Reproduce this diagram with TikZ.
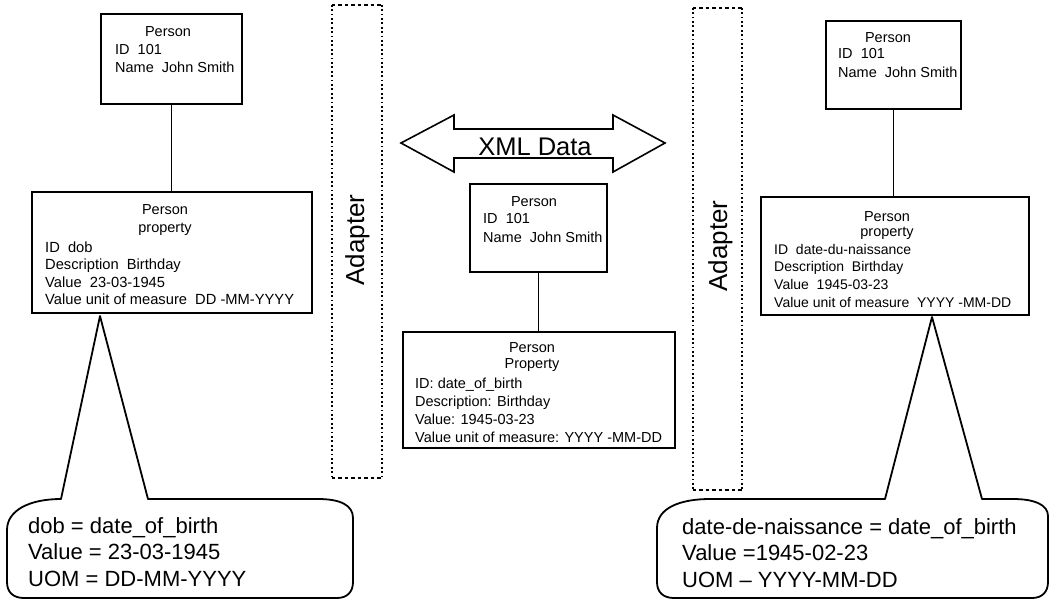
\documentclass[tikz,border=0pt]{standalone}
\usepackage{fontspec}
\setmainfont{Liberation Sans}
\begin{document}
\begin{tikzpicture}[x=1pt,y=-1pt,
  box/.style={draw,line width=1.7pt,inner sep=0pt},
  head/.style={font=\fontsize{14.5}{18}\selectfont,inner sep=0pt},
  body/.style={font=\fontsize{14.5}{18}\selectfont,inner sep=0pt,align=left,anchor=north west},
  link/.style={line width=1.6pt},
  side/.style={line width=1.9pt,dash pattern=on 1.8pt off 2.6pt},
  edge/.style={line width=1.5pt,dash pattern=on 3.5pt off 3pt},
  adtext/.style={rotate=90,font=\fontsize{26}{30}\selectfont,inner sep=0pt},
  callout/.style={draw,line width=1.8pt,line join=round},
  calltext/.style={font=\fontsize{22}{26.5}\selectfont,inner sep=0pt,align=left,anchor=north west}]
\useasboundingbox (0,0) rectangle (1049,600);

% ---------- left side ----------
\node[box,minimum width=141pt,minimum height=90pt] (lt) at (171.5,59) {};
\node[head] (lth) at (168,32) {Person};
\node[body] (ltb) at (115,44) {ID\ \ 101\\Name\ \ John Smith};

\node[box,minimum width=280pt,minimum height=121pt] (lp) at (172,252.5) {};
\node[head] (lph1) at (165,210) {Person};
\node[head] (lph2) at (165,229) {property};
\node[body,font=\fontsize{14.7}{17.3}\selectfont] (lpb) at (45,241.8)
  {ID\ \ dob\\Description\ \ Birthday\\Value\ \ 23-03-1945\\Value unit of measure\ \ DD -MM-YYYY};
\draw[link] (lt.south) -- (lt.south |- lp.north);

% ---------- middle ----------
\node[box,minimum width=137pt,minimum height=88pt] (mt) at (538.5,228) {};
\node[head] (mth) at (534,202) {Person};
\node[body,font=\fontsize{14.5}{19}\selectfont] (mtb) at (483,212.8) {ID\ \ 101\\Name\ \ John Smith};

\node[box,minimum width=272pt,minimum height=116pt] (mp) at (539,390) {};
\node[head] (mph1) at (532,348) {Person};
\node[head] (mph2) at (532,365) {Property};
\node[body,font=\fontsize{14.5}{18}\selectfont] (mpb) at (415,377.8)
  {ID: date\_of\_birth\\Description: Birthday\\Value: 1945-03-23\\Value unit of measure: YYYY -MM-DD};
\draw[link] (mt.south) -- (mt.south |- mp.north);

% XML Data double arrow
\coordinate (xl) at (401,143);
\coordinate (xr) at (665,143);
\draw[line width=1.6pt,line join=miter]
  (xl) -- (454,115) -- (454,129) -- (613,129) -- (613,115) -- (xr)
  -- (613,172) -- (613,158) -- (454,158) -- (454,172) -- cycle;
\node[font=\fontsize{25.5}{30}\selectfont,inner sep=0pt] (xml) at (535,146.5) {XML Data};

% ---------- right side ----------
\node[box,minimum width=135pt,minimum height=88pt] (rt) at (893.5,65) {};
\node[head] (rth) at (888,38) {Person};
\node[body,font=\fontsize{14.5}{19}\selectfont] (rtb) at (838,48) {ID\ \ 101\\Name\ \ John Smith};

\node[box,minimum width=268pt,minimum height=118pt] (rp) at (895,256) {};
\node[head] (rph1) at (887,217) {Person};
\node[head] (rph2) at (887,233) {property};
\node[body,font=\fontsize{14}{17.6}\selectfont] (rpb) at (774,244)
  {ID\ \ date-du-naissance\\Description\ \ Birthday\\Value\ \ 1945-03-23\\Value unit of measure\ \ YYYY -MM-DD};
\draw[link] (rt.south) -- (rt.south |- rp.north);

% ---------- adapters ----------
\node[minimum width=50pt,minimum height=473pt,inner sep=0pt] (ad1) at (357,241.5) {};
\draw[side] (ad1.north west) -- (ad1.south west);
\draw[side] (ad1.north east) -- (ad1.south east);
\draw[edge] (ad1.north west) -- (ad1.north east);
\draw[edge] (ad1.south west) -- (ad1.south east);
\node[adtext] (ad1t) at (357.5,240) {Adapter};

\node[minimum width=49pt,minimum height=482pt,inner sep=0pt] (ad2) at (717.5,249) {};
\draw[side] (ad2.north west) -- (ad2.south west);
\draw[side] (ad2.north east) -- (ad2.south east);
\draw[edge] (ad2.north west) -- (ad2.north east);
\draw[edge] (ad2.south west) -- (ad2.south east);
\node[adtext] (ad2t) at (720.5,246) {Adapter};

% ---------- callouts ----------
\coordinate (c1tip) at (100,316);
\draw[callout] (61,499) -- (c1tip) -- (148,499) -- (318,499)
  .. controls (340,499) and (353,505) .. (353,518) -- (353,582)
  .. controls (353,592) and (347,598) .. (337,598) -- (24,598)
  .. controls (13,598) and (7,592) .. (7,582) -- (7,530)
  .. controls (7,510) and (30,499) .. (61,499) -- cycle;
\node[calltext] (c1) at (28,517) {dob = date\_of\_birth\\Value = 23-03-1945\\UOM = DD-MM-YYYY};

\coordinate (c2tip) at (932,317);
\draw[callout] (885,499) -- (c2tip) -- (982,499) -- (1013,499)
  .. controls (1035,499) and (1048,505) .. (1048,516) -- (1048,582)
  .. controls (1048,592) and (1042,598) .. (1032,598) -- (674,598)
  .. controls (663,598) and (657,592) .. (657,582) -- (657,528)
  .. controls (657,508) and (680,499) .. (710,499) -- cycle;
\node[calltext] (c2) at (682,518) {date-de-naissance = date\_of\_birth\\Value =1945-02-23\\UOM -- YYYY-MM-DD};
\end{tikzpicture}
\end{document}
